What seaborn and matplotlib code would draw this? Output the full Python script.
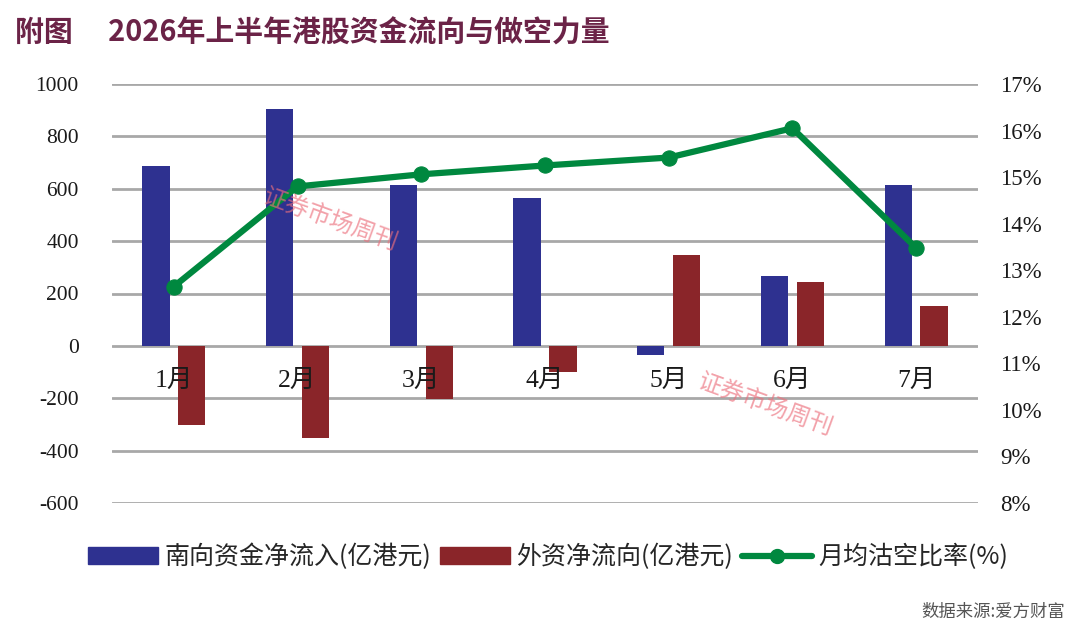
import matplotlib
matplotlib.use("Agg")
import matplotlib.pyplot as plt
import numpy as np
import pandas as pd
import seaborn as sns
from matplotlib.patches import Patch
from matplotlib.lines import Line2D

months = ["1月", "2月", "3月", "4月", "5月", "6月", "7月"]
south_flow = [688, 905, 614, 566, -36, 268, 614]      # 南向资金净流入(亿港元)
foreign_flow = [-303, -350, -202, -99, 348, 244, 153]  # 外资净流向(亿港元)
short_ratio = [12.65, 14.8, 15.06, 15.25, 15.42, 16.05, 13.48]  # 月均沽空比率(%)

left_ticks = [1000, 800, 600, 400, 200, 0, -200, -400, -600]
right_ticks = [17, 16, 15, 14, 13, 12, 11, 10, 9, 8]

BLUE = "#2e3190"
RED = "#8a2529"
GREEN = "#00883f"
GRID = "#a8a8a8"

sns.set_theme(style="white")
plt.rcParams["font.family"] = ["Liberation Serif", "Noto Sans CJK SC", "DejaVu Sans"]

df = pd.DataFrame({
    "month": months * 2,
    "value": south_flow + foreign_flow,
    "series": ["南向资金净流入(亿港元)"] * 7 + ["外资净流向(亿港元)"] * 7,
})

fig = plt.figure(figsize=(10.8, 6.34), dpi=100)
ax = fig.add_axes([112 / 1080, 1 - 503 / 634, (978 - 112) / 1080, (503 - 84) / 634])

sns.barplot(data=df, x="month", y="value", hue="series", order=months,
            palette=[BLUE, RED], width=0.58, gap=0.24, saturation=1,
            linewidth=0, legend=False, ax=ax, zorder=3)

ax.set_ylim(-600, 1000)
ax.set_xlim(-0.5, 6.5)
ax.set_yticks(left_ticks)
ax.set_yticklabels([str(t) for t in left_ticks], fontsize=15.5, color="#1a1a1a")
ax.tick_params(axis="y", length=0, pad=24)
ax.set_xlabel("")
ax.set_ylabel("")
for y in left_ticks:
    ax.axhline(y, color=GRID, lw=2, zorder=1)
for s in ax.spines.values():
    s.set_visible(False)
ax.set_xticks([])
# month labels sit just below the zero line
for i, m in enumerate(months):
    ax.text(i, -135, m, ha="center", va="center", fontsize=18.5, color="#1a1a1a",
            family=["Liberation Serif", "Noto Sans CJK SC"], zorder=4)

ax2 = ax.twinx()
sns.lineplot(x=np.arange(len(months)), y=short_ratio, ax=ax2, color=GREEN,
             lw=4.5, marker="o", markersize=11, markeredgecolor=GREEN, zorder=5)
ax2.set_ylim(8, 17)
ax2.set_yticks(right_ticks)
ax2.set_yticklabels([f"{t}%" for t in right_ticks], fontsize=16.5, color="#1a1a1a")
ax2.tick_params(axis="y", length=0, pad=16)
for s in ax2.spines.values():
    s.set_visible(False)
ax2.set_xlim(-0.5, 6.5)

# watermarks
for (wx, wy) in [(330, 220), (765, 405)]:
    fig.text(wx / 1080, 1 - wy / 634, "证券市场周刊", fontsize=17, color="#ec6f7c",
             alpha=0.65, rotation=-20, ha="center", va="center",
             family=["Noto Sans CJK SC"], zorder=10)

fig.text(15 / 1080, 1 - 33 / 634, "附图　 2026年上半年港股资金流向与做空力量",
         fontsize=20.8, fontweight="bold", color="#6b2347", ha="left", va="center",
         family=["Noto Sans CJK SC", "DejaVu Sans"])

handles = [
    Patch(color=BLUE, label="南向资金净流入(亿港元)"),
    Patch(color=RED, label="外资净流向(亿港元)"),
    Line2D([0], [0], color=GREEN, lw=4.5, marker="o", markersize=10, label="月均沽空比率(%)"),
]
fig.legend(handles=handles, loc="center", bbox_to_anchor=(548 / 1080, 1 - 557 / 634),
           ncol=3, frameon=False, handlelength=2.8, handleheight=0.65,
           handletextpad=0.25, columnspacing=0.35,
           prop={"family": ["Noto Sans CJK SC", "DejaVu Sans"], "size": 18})

fig.text(1065 / 1080, 1 - 612 / 634, "数据来源:爱方财富", fontsize=12.5, color="#555555",
         ha="right", va="center", family=["Noto Sans CJK SC", "DejaVu Sans"])

fig.savefig("out.png", dpi=100, facecolor="white")
